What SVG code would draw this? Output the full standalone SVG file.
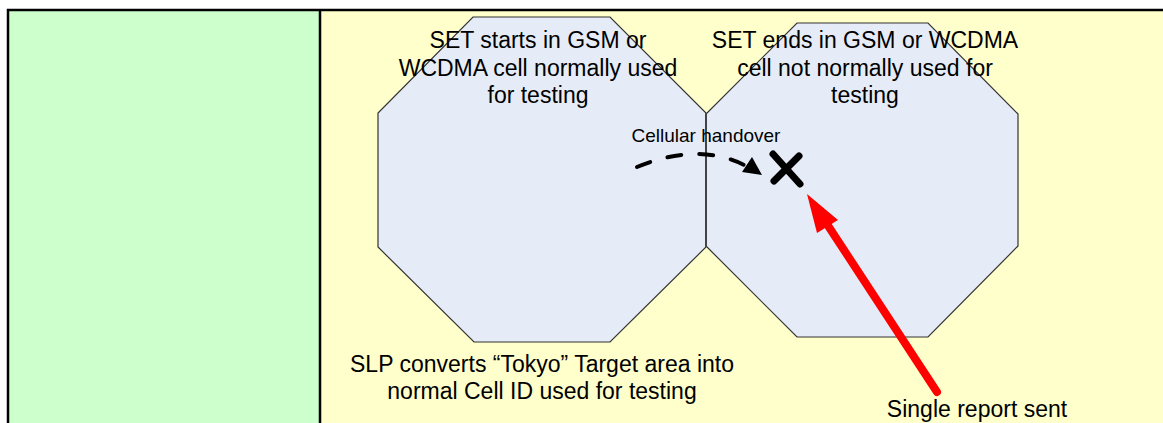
<svg xmlns="http://www.w3.org/2000/svg" width="1163" height="423" viewBox="0 0 1163 423">
<defs>
<style>
.t{font-family:"Liberation Sans",Arial,sans-serif;fill:#000;text-anchor:middle}
.big{font-size:23px}
.sm{font-size:19px}
.oct{fill:#E6ECF7;stroke:#333;stroke-width:1.2}
.grid{stroke:#000;stroke-width:2.5;fill:none}
</style>
</defs>
<rect x="0" y="0" width="1163" height="423" fill="#fff"/>
<g id="table">
<rect x="8" y="10" width="312" height="413" fill="#CCFFCC"/>
<rect x="320" y="10" width="843" height="413" fill="#FFFFCC"/>
<path class="grid" d="M8,423 V10 H1163 M320,10 V423"/>
</g>
<g id="cell-left">
<polygon class="oct" points="473,17 610,17 706,113 706,247 610,342 474,342 378,247 378,113"/>
</g>
<g id="cell-right">
<polygon class="oct" points="797,23 928,23 1018,114 1018,246 928,337 797,337 706,246 706,114"/>
<line x1="706" y1="114" x2="706" y2="246" stroke="#444" stroke-width="2"/>
</g>
<g id="label-left">
<text class="t big" x="538" y="48">SET starts in GSM or</text>
<text class="t big" x="538" y="76">WCDMA cell normally used</text>
<text class="t big" x="538" y="103">for testing</text>
</g>
<g id="label-right">
<text class="t big" x="865" y="48">SET ends in GSM or WCDMA</text>
<text class="t big" x="865" y="76">cell not normally used for</text>
<text class="t big" x="865" y="103">testing</text>
</g>
<g id="label-slp">
<text class="t big" x="542" y="372">SLP converts “Tokyo” Target area into</text>
<text class="t big" x="542" y="399">normal Cell ID used for testing</text>
</g>
<g id="set-mark">
<path d="M773,154 L800,184 M799,156 L774,181" stroke="#000" stroke-width="7" stroke-linecap="round" fill="none"/>
</g>
<g id="connectors">
<path d="M637,167 Q700,141 748,167" stroke="#000" stroke-width="4" stroke-linecap="round" stroke-dasharray="14,18" fill="none"/>
<polygon points="762,175 742,172 752,157" fill="#000"/>
<text class="t sm" x="706" y="142">Cellular handover</text>
<line x1="937" y1="392" x2="823" y2="218" stroke="#FF0000" stroke-width="8" stroke-linecap="round"/>
<polygon points="807,194 838,220 817,233" fill="#FF0000"/>
<text class="t big" x="977" y="417">Single report sent</text>
</g>
</svg>
